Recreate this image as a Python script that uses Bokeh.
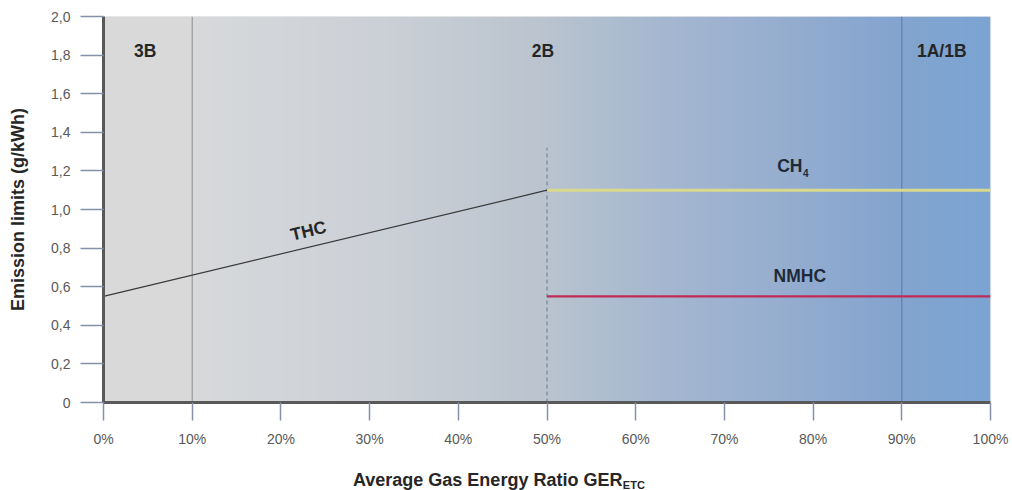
import numpy as np
from bokeh.plotting import figure
from bokeh.models import Range1d, FixedTicker, Label
from bokeh.layouts import column
from bokeh.embed import file_html
from bokeh.resources import INLINE

# ---- data ----
thc_x = [0, 50]
thc_y = [0.55, 1.1]
limit_x = [50, 100]
ch4_y = [1.1, 1.1]
nmhc_y = [0.55, 0.55]
boundary_solid = [10, 90]
boundary_dashed = 50
dashed_top = 1.32
regions = ["3B", "2B", "1A/1B"]
region_x = [4.7, 49.55, 94.5]
x_ticks = [0, 10, 20, 30, 40, 50, 60, 70, 80, 90, 100]
x_tick_labels = ["0%", "10%", "20%", "30%", "40%", "50%", "60%", "70%", "80%", "90%", "100%"]
y_ticks = [0, 0.2, 0.4, 0.6, 0.8, 1.0, 1.2, 1.4, 1.6, 1.8, 2.0]
y_tick_labels = ["0", "0,2", "0,4", "0,6", "0,8", "1,0", "1,2", "1,4", "1,6", "1,8", "2,0"]

# background gradient stops (position %, colour)
grad_pos = [0, 10, 10.5, 30, 50, 60, 75, 90, 100]
grad_col = ["#d9d9d9", "#d9d9d9", "#d7d9db", "#cdd1d7", "#bac4cf",
            "#a9bad0", "#98afd0", "#83a4cf", "#7ca5d3"]

FONT = "Liberation Sans"
BOLD_SIZE = "17.5px"

p = figure(width=1012, height=450, output_backend="svg", toolbar_location=None,
           x_range=Range1d(0, 100), y_range=Range1d(0, 2),
           min_border_left=103, min_border_right=22, min_border_top=16, min_border_bottom=48)
p.outline_line_color = None
p.grid.grid_line_color = None
p.background_fill_color = "#d9d9d9"

# gradient background as an RGBA image
N = 400
xs = np.linspace(0, 100, N)
def hex2rgb(h):
    return [int(h[i:i + 2], 16) for i in (1, 3, 5)]
rgb = np.array([hex2rgb(c) for c in grad_col], dtype=float)
img = np.empty((1, N), dtype=np.uint32)
view = img.view(dtype=np.uint8).reshape((1, N, 4))
for k in range(3):
    view[0, :, k] = np.interp(xs, grad_pos, rgb[:, k]).astype(np.uint8)
view[0, :, 3] = 255
p.image_rgba(image=[img], x=0, y=0, dw=100, dh=2)

# boundaries
p.segment(x0=[boundary_solid[0]], y0=[0], x1=[boundary_solid[0]], y1=[2],
          line_color="#8c8c8c", line_width=1)
p.segment(x0=[boundary_solid[1]], y0=[0], x1=[boundary_solid[1]], y1=[2],
          line_color="#5c7aa0", line_width=1)
p.segment(x0=[boundary_dashed], y0=[0], x1=[boundary_dashed], y1=[dashed_top],
          line_color="#6a7890", line_width=1, line_dash="4 3")

# limit lines
p.line(thc_x, thc_y, line_color="#3a3a3a", line_width=1.2)
p.line(limit_x, ch4_y, line_color="#d9d98c", line_width=3)
p.line(limit_x, nmhc_y, line_color="#c02a55", line_width=2.2)

# labels
for name, xv in zip(regions, region_x):
    p.add_layout(Label(x=xv, y=1.82, text=name, text_font=FONT, text_font_style="bold",
                       text_font_size=BOLD_SIZE, text_color="#262626",
                       text_align="center", text_baseline="middle"))

p.add_layout(Label(x=78.8, y=1.223, text="CH", text_font=FONT, text_font_style="bold",
                   text_font_size=BOLD_SIZE, text_color="#1f2a38",
                   text_align="right", text_baseline="middle"))
p.add_layout(Label(x=78.85, y=1.187, text="4", text_font=FONT, text_font_style="bold",
                   text_font_size="10px", text_color="#1f2a38",
                   text_align="left", text_baseline="middle"))
p.add_layout(Label(x=78.5, y=0.654, text="NMHC", text_font=FONT, text_font_style="bold",
                   text_font_size=BOLD_SIZE, text_color="#1f2a38",
                   text_align="center", text_baseline="middle"))
p.add_layout(Label(x=23.1, y=0.89, text="THC", text_font=FONT, text_font_style="bold",
                   text_font_size=BOLD_SIZE, text_color="#262626", angle=0.235,
                   text_align="center", text_baseline="middle"))

# axes
p.xaxis.ticker = FixedTicker(ticks=x_ticks)
p.xaxis.major_label_overrides = dict(zip(x_ticks, x_tick_labels))
p.yaxis.ticker = FixedTicker(ticks=y_ticks)
p.yaxis.major_label_overrides = dict(zip(y_ticks, y_tick_labels))
for ax in (p.xaxis, p.yaxis):
    ax.axis_line_color = "#595959"
    ax.axis_line_width = 3
    ax.major_tick_in = 0
    ax.minor_tick_line_color = None
    ax.major_tick_line_color = "#8591a8"
    ax.major_tick_line_width = 1.5
    ax.major_label_text_font = FONT
    ax.major_label_text_font_size = "14px"
    ax.major_label_text_color = "#595959"
    ax.major_label_standoff = 10
p.yaxis.major_tick_out = 23
p.xaxis.major_tick_out = 18
p.yaxis.axis_label = "Emission limits (g/kWh)"
p.yaxis.axis_label_text_font = FONT
p.yaxis.axis_label_text_font_style = "bold"
p.yaxis.axis_label_text_font_size = "18px"
p.yaxis.axis_label_text_color = "#262626"
p.yaxis.axis_label_standoff = 20

# strip below for the x axis title (with subscript)
t = figure(width=1012, height=40, output_backend="svg", toolbar_location=None,
           x_range=p.x_range, y_range=Range1d(0, 40),
           x_axis_location=None, y_axis_location=None,
           min_border_left=103, min_border_right=22, min_border_top=0, min_border_bottom=0)
t.outline_line_color = None
t.grid.grid_line_color = None
t.background_fill_color = "white"
t.border_fill_color = "white"
t.add_layout(Label(x=58.5, y=11, text="Average Gas Energy Ratio GER", text_font=FONT,
                   text_font_style="bold", text_font_size="18px", text_color="#262626",
                   text_align="right", text_baseline="middle"))
t.add_layout(Label(x=58.55, y=6, text="ETC", text_font=FONT,
                   text_font_style="bold", text_font_size="11px", text_color="#262626",
                   text_align="left", text_baseline="middle"))

layout = column(p, t, spacing=0)
open("out.html", "w").write(file_html(layout, INLINE))
